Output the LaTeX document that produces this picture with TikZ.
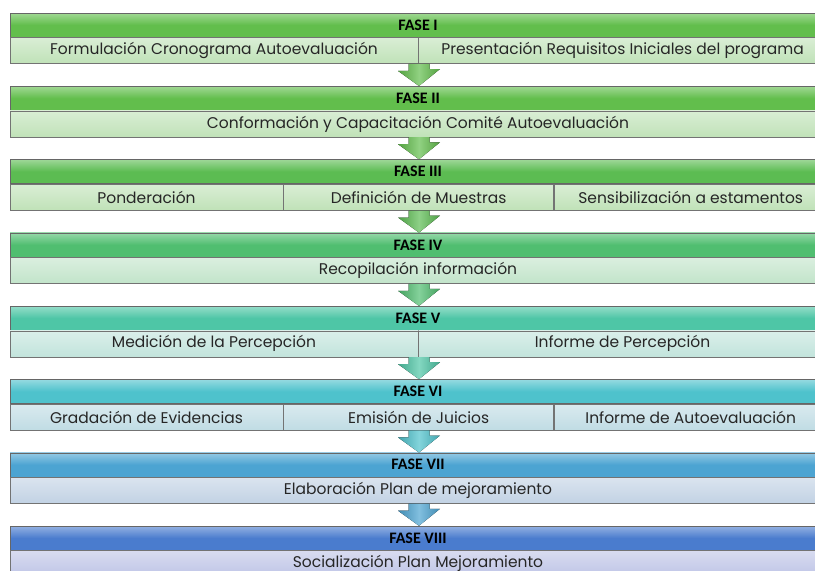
\documentclass[tikz,border=0pt]{standalone}
\usepackage{fontspec}
\setmainfont{Poppins}
\newfontfamily\headfont{Carlito}
\usetikzlibrary{positioning,calc}

% colours of the phases (header, sub bar)
\definecolor{faseI}{RGB}{98,190,76}
\definecolor{faseIII}{RGB}{92,188,82}
\definecolor{faseIV}{RGB}{80,190,112}
\definecolor{faseV}{RGB}{78,198,166}
\definecolor{faseVI}{RGB}{78,194,204}
\definecolor{faseVII}{RGB}{76,164,210}
\definecolor{faseVIII}{RGB}{74,124,206}
\definecolor{subI}{RGB}{192,226,184}
\definecolor{subIV}{RGB}{194,228,202}
\definecolor{subV}{RGB}{194,228,220}
\definecolor{subVI}{RGB}{192,220,228}
\definecolor{subVII}{RGB}{194,210,228}
\definecolor{subVIII}{RGB}{190,196,230}

% block arrow from a sub bar down to the next header
\newcommand{\fasearrow}[3]{%
  \fill[left color=#3!85!black, right color=#3!85!black, middle color=#3!70!white]
    ($(ax |- #1.south)+(-10.5,0)$) -- ++(0,7) -- ++(-10.5,0) -- (ax |- #2.north)
    -- ++(21,-17) -- ++(-10.5,0) -- ($(ax |- #1.south)+(10.5,0)$) -- cycle;}

\begin{document}
\begin{tikzpicture}[x=1pt,y=-1pt,
  fase head/.style={draw=black!60, line width=0.6pt, minimum width=816pt, minimum height=24pt,
    inner sep=0pt, top color=#1!60!white, bottom color=#1, middle color=#1,
    font=\headfont\bfseries\fontsize{16}{16}\selectfont, text=black},
  fase sub/.style={draw=black!55, line width=0.6pt, minimum height=26pt, inner sep=0pt,
    anchor=north west, top color=#1!60!white, bottom color=#1,
    font=\fontsize{15.5}{15.5}\selectfont, text=black!85},
  full/.style={minimum width=816pt},
  half/.style={minimum width=408pt},
  third/.style={minimum width=273pt}]
    \useasboundingbox (0,0) rectangle (815,571);
    \coordinate (ax) at (419,0);

    % FASE I
    \node[fase head=faseI] (f1) at (418,25) {FASE I};
    \node[fase sub=subI, half] (s1a) at (f1.south west) {Formulación Cronograma Autoevaluación};
    \node[fase sub=subI, half] (s1b) at (s1a.north east) {Presentación Requisitos Iniciales del programa};

    % FASE II
    \node[fase head=faseI] (f2) at (418,98.3) {FASE II};
    \node[fase sub=subI, full] (s2) at (f2.south west) {Conformación y Capacitación Comité Autoevaluación};

    % FASE III
    \node[fase head=faseIII] (f3) at (418,171.6) {FASE III};
    \node[fase sub=subI, third] (s3a) at (f3.south west) {Ponderación};
    \node[fase sub=subI, third, minimum width=270pt] (s3b) at (s3a.north east) {Definición de Muestras};
    \node[fase sub=subI, third] (s3c) at (s3b.north east) {Sensibilización a estamentos};

    % FASE IV
    \node[fase head=faseIV] (f4) at (418,244.9) {FASE IV};
    \node[fase sub=subIV, full] (s4) at (f4.south west) {Recopilación información};

    % FASE V
    \node[fase head=faseV] (f5) at (418,318.2) {FASE V};
    \node[fase sub=subV, half] (s5a) at (f5.south west) {Medición de la Percepción};
    \node[fase sub=subV, half] (s5b) at (s5a.north east) {Informe de Percepción};

    % FASE VI
    \node[fase head=faseVI] (f6) at (418,391.5) {FASE VI};
    \node[fase sub=subVI, third] (s6a) at (f6.south west) {Gradación de Evidencias};
    \node[fase sub=subVI, third, minimum width=270pt] (s6b) at (s6a.north east) {Emisión de Juicios};
    \node[fase sub=subVI, third] (s6c) at (s6b.north east) {Informe de Autoevaluación};

    % FASE VII
    \node[fase head=faseVII] (f7) at (418,464.8) {FASE VII};
    \node[fase sub=subVII, full] (s7) at (f7.south west) {Elaboración Plan de mejoramiento};

    % FASE VIII
    \node[fase head=faseVIII] (f8) at (418,538.1) {FASE VIII};
    \node[fase sub=subVIII, full] (s8) at (f8.south west) {Socialización Plan Mejoramiento};

    % Arrows between the phases
    \fasearrow{s1b}{f2}{faseI}
    \fasearrow{s2}{f3}{faseI}
    \fasearrow{s3b}{f4}{faseIII}
    \fasearrow{s4}{f5}{faseIV}
    \fasearrow{s5b}{f6}{faseV}
    \fasearrow{s6b}{f7}{faseVI}
    \fasearrow{s7}{f8}{faseVII}
\end{tikzpicture}
\end{document}
